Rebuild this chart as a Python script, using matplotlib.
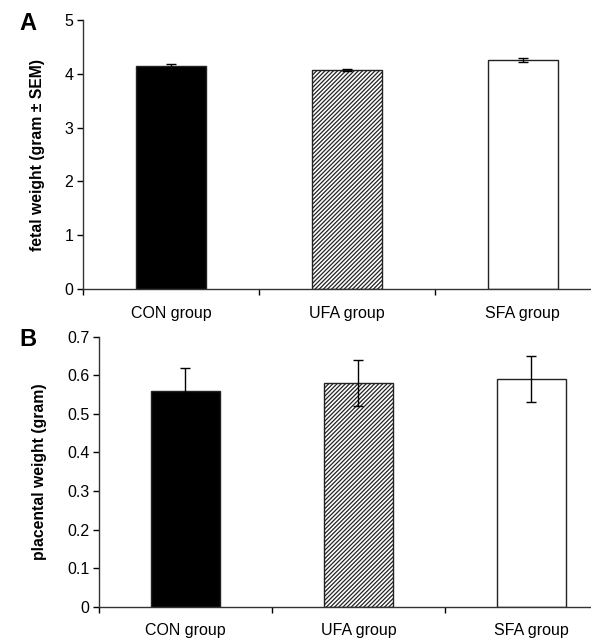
import numpy as np
import matplotlib
matplotlib.use("Agg")
import matplotlib.pyplot as plt

plt.rcParams['font.family'] = ['Liberation Sans', 'DejaVu Sans']
plt.rcParams['hatch.linewidth'] = 0.9

groups = ["CON group", "UFA group", "SFA group"]

# panel A: fetal weight (gram +- SEM)
fetal = [4.15, 4.07, 4.26]
fetal_err = [0.04, 0.02, 0.04]

# panel B: placental weight (gram)
placental = [0.56, 0.58, 0.59]
placental_err = [0.06, 0.06, 0.06]

faces = ["black", "white", "white"]
hatches = [None, "////////", None]

fig = plt.figure(figsize=(5.91, 6.41), dpi=100)
ax_a = fig.add_axes([0.1404, 0.5491, 0.893, 0.4197])
ax_b = fig.add_axes([0.1675, 0.0535, 0.878, 0.4212])


def draw_panel(ax, vals, errs, ylim, yticks, yticklabels, ylabel, letter, lx):
    x = np.arange(len(groups))
    for i in range(len(groups)):
        ax.bar(x[i], vals[i], width=0.4, color=faces[i], edgecolor="#222222",
               hatch=hatches[i], linewidth=1.0, zorder=2)
    ax.errorbar(x, vals, yerr=errs, fmt="none", ecolor="black", elinewidth=1.0,
                capsize=3.6, capthick=1.0, zorder=3)
    ax.set_xlim(-0.5, 2.5)
    ax.set_ylim(*ylim)
    ax.set_yticks(yticks)
    ax.set_yticklabels(yticklabels)
    ax.set_xticks(x)
    ax.set_xticklabels(groups)
    ax.tick_params(axis="x", length=0, pad=12, labelsize=11.5)
    ax.set_xticks([-0.5, 0.5, 1.5, 2.5], minor=True)
    ax.tick_params(axis="x", which="minor", length=4, direction="out", width=1.0)
    ax.tick_params(axis="y", length=4, direction="out", width=1.0, labelsize=11.5, pad=3)
    for s in ["top", "right"]:
        ax.spines[s].set_visible(False)
    for s in ["left", "bottom"]:
        ax.spines[s].set_linewidth(1.0)
        ax.spines[s].set_color("#333333")
    ax.set_ylabel(ylabel, fontsize=11.3, fontweight="bold", labelpad=14)
    # panel letter, placed in figure pixels
    fig.text(lx[0] / 591, 1 - lx[1] / 641, letter, fontsize=17,
             fontweight="bold", ha="center", va="center")


draw_panel(ax_a, fetal, fetal_err, (0, 5), [0, 1, 2, 3, 4, 5],
           ["0", "1", "2", "3", "4", "5"], "fetal weight (gram ± SEM)", "A", (28, 23))
draw_panel(ax_b, placental, placental_err, (0, 0.7),
           [0, 0.1, 0.2, 0.3, 0.4, 0.5, 0.6, 0.7],
           ["0", "0.1", "0.2", "0.3", "0.4", "0.5", "0.6", "0.7"],
           "placental weight (gram)", "B", (28, 340))

fig.savefig("out.png", dpi=100)
